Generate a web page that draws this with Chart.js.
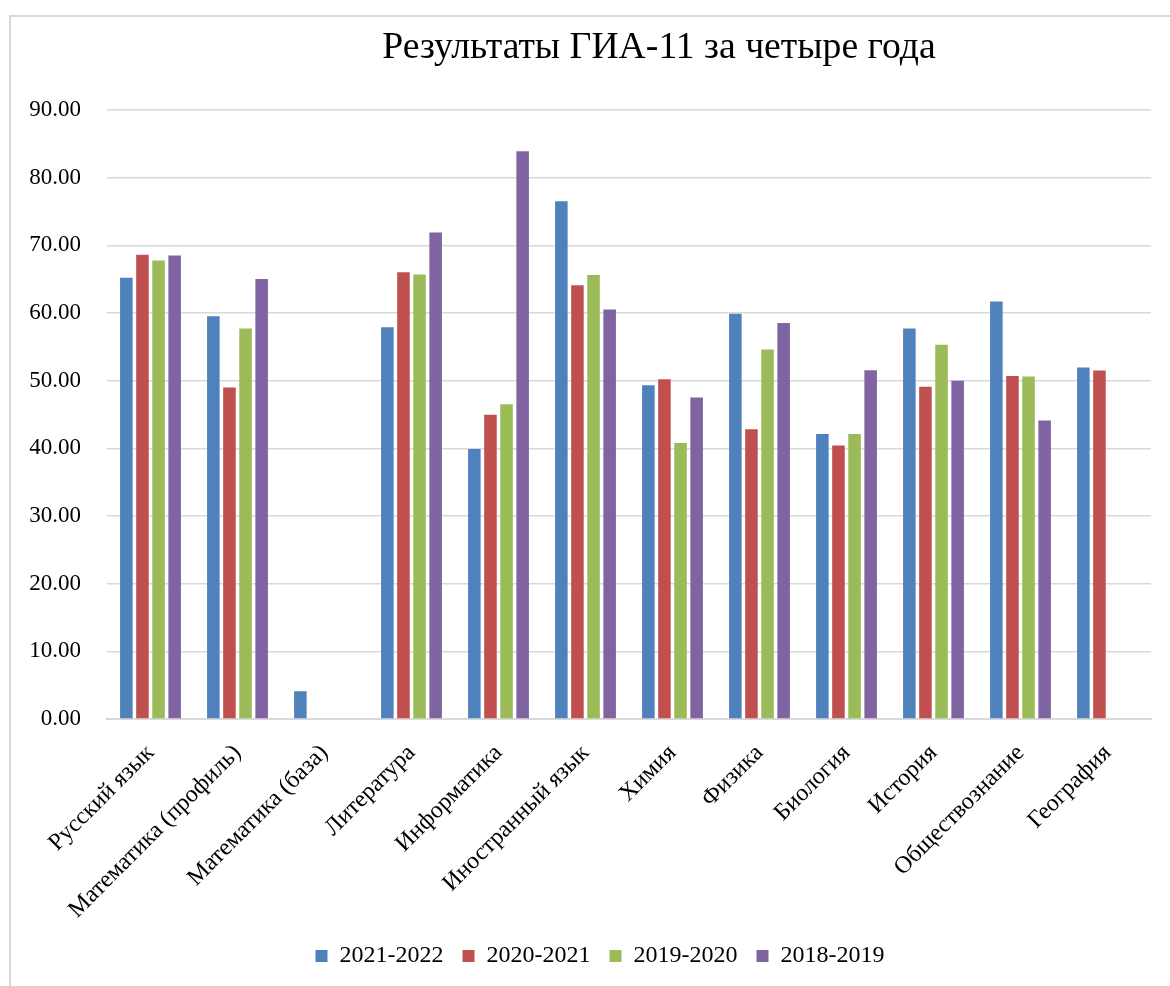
<!DOCTYPE html>
<html lang="ru">
<head>
    <meta charset="UTF-8">
    <script src="https://cdn.jsdelivr.net/npm/chart.js"></script>
    <title>Результаты ГИА-11 за четыре года</title>
</head>
<style>
    body { margin: 0; background: #fff; }
    .frame {
        position: absolute;
        left: 9px;
        top: 15px;
        width: 1200px;
        height: 1000px;
        border: 2px solid #d9d9d9;
    }
    #chart { position: absolute; left: 0; top: 0; }
</style>
<body>
    <div class="frame"></div>
    <canvas id="chart" width="1170" height="986"></canvas>
</body>
<script>
    const subjects = ['Русский язык', 'Математика (профиль)', 'Математика (база)', 'Литература',
        'Информатика', 'Иностранный язык', 'Химия', 'Физика', 'Биология', 'История',
        'Обществознание', 'География'];
    const years = ['2021-2022', '2020-2021', '2019-2020', '2018-2019'];

    const res2021_2022 = [65.2, 59.5, 4.1, 57.9, 39.9, 76.5, 49.3, 59.9, 42.1, 57.7, 61.7, 51.95];
    const res2020_2021 = [68.6, 49.0, null, 66.0, 44.95, 64.1, 50.2, 42.8, 40.4, 49.1, 50.7, 51.5];
    const res2019_2020 = [67.75, 57.7, null, 65.7, 46.5, 65.6, 40.8, 54.6, 42.1, 55.3, 50.6, null];
    const res2018_2019 = [68.5, 65.0, null, 71.9, 83.9, 60.5, 47.5, 58.5, 51.55, 50.0, 44.1, null];

    const yTicks = [0, 10, 20, 30, 40, 50, 60, 70, 80, 90];

    const colors = ['#4F81BD', '#C0504D', '#9BBB59', '#8064A2'];
    const seriesValues = [res2021_2022, res2020_2021, res2019_2020, res2018_2019];
    const font = 'Liberation Serif';

    var datasets = [];
    for (let i = 0; i < years.length; i++) {
        datasets.push({
            label: years[i],
            data: seriesValues[i],
            backgroundColor: colors[i],
            borderWidth: 0,
            categoryPercentage: 0.74,
            barPercentage: 0.78
        });
    }

    // title and legend in the original sit right of the canvas middle
    const titleCenter = 659;
    const legendShift = 49;
    const shiftBlocks = {
        id: 'shiftBlocks',
        afterLayout: function (chart) {
            var t = chart.titleBlock;
            if (t) t.left = 2 * titleCenter - t.right;
            if (chart.legend) chart.legend.left += legendShift;
        }
    };

    var ctx = document.getElementById('chart').getContext('2d');
    var chart = new Chart(ctx, {
        type: 'bar',
        data: { labels: subjects, datasets: datasets },
        plugins: [shiftBlocks],
        options: {
            responsive: false,
            animation: false,
            layout: { padding: { left: 0, right: 19, top: 0, bottom: 8 } },
            plugins: {
                title: {
                    display: true,
                    text: 'Результаты ГИА-11 за четыре года',
                    color: '#000',
                    font: { family: font, size: 37.7, weight: 'normal' },
                    padding: { top: 25, bottom: 39.7 }
                },
                legend: {
                    position: 'bottom',
                    labels: {
                        color: '#000',
                        font: { family: font, size: 24 },
                        boxWidth: 12,
                        boxHeight: 12,
                        padding: 19
                    }
                },
                tooltip: { enabled: false }
            },
            scales: {
                x: {
                    grid: { display: false },
                    border: { display: true, color: '#d9d9d9', width: 2 },
                    ticks: {
                        color: '#000',
                        font: { family: font, size: 24 },
                        minRotation: 45,
                        maxRotation: 45,
                        autoSkip: false,
                        padding: 12
                    },
                    afterFit: function (scale) { scale.height = 206; }
                },
                y: {
                    min: 0,
                    max: 90,
                    afterBuildTicks: function (scale) {
                        scale.ticks = yTicks.map(v => ({ value: v }));
                    },
                    grid: { color: '#d9d9d9', lineWidth: 1.5, drawTicks: false },
                    border: { display: false },
                    ticks: {
                        color: '#000',
                        font: { family: font, size: 23 },
                        padding: 26,
                        callback: function (v) { return Number(v).toFixed(2); }
                    },
                    afterFit: function (scale) { scale.width = 107; }
                }
            }
        }
    });
</script>
</html>
